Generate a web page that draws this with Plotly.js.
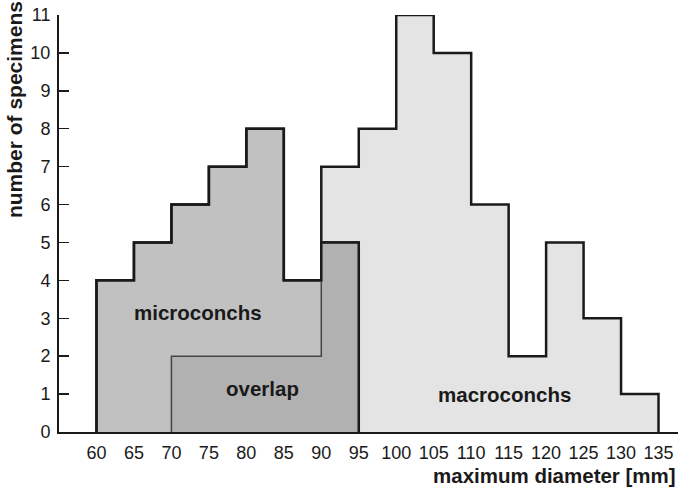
<!DOCTYPE html>
<html>
<head>
<meta charset="utf-8">
<script src="https://cdn.plot.ly/plotly-3.0.1.min.js"></script>
<style>html,body{margin:0;padding:0;background:#fff}#chart{width:680px;height:491px}</style>
</head>
<body>
<div id="chart"></div>
<script>
// bin left edges (mm), bin width 5 mm
var binEdges = [60, 65, 70, 75, 80, 85, 90, 95, 100, 105, 110, 115, 120, 125, 130, 135];
var microCounts = [4, 5, 6, 7, 8, 4, 5, 0, 0, 0, 0, 0, 0, 0, 0];
var macroCounts = [0, 0, 2, 2, 2, 2, 7, 8, 11, 10, 6, 2, 5, 3, 1];
var xTicks = [60, 65, 70, 75, 80, 85, 90, 95, 100, 105, 110, 115, 120, 125, 130, 135];
var yTicks = [0, 1, 2, 3, 4, 5, 6, 7, 8, 9, 10, 11];

var overlapCounts = microCounts.map(function (v, i) { return Math.min(v, macroCounts[i]); });

function outline(counts) {
  var first = -1, last = -1;
  for (var i = 0; i < counts.length; i++) { if (counts[i] > 0) { if (first < 0) first = i; last = i; } }
  var xs = [binEdges[first]], ys = [0];
  for (var j = first; j <= last; j++) {
    xs.push(binEdges[j], binEdges[j + 1]);
    ys.push(counts[j], counts[j]);
  }
  xs.push(binEdges[last + 1]); ys.push(0);
  return {x: xs, y: ys};
}

var mac = outline(macroCounts), mic = outline(microCounts), ov = outline(overlapCounts);

var traces = [
  {x: mac.x, y: mac.y, mode: 'lines', fill: 'toself', fillcolor: '#e4e4e4',
   line: {color: '#1a1a1a', width: 2.5}, hoverinfo: 'skip'},
  {x: mic.x, y: mic.y, mode: 'lines', fill: 'toself', fillcolor: '#c1c1c1',
   line: {color: '#1a1a1a', width: 2.5}, hoverinfo: 'skip'},
  {x: ov.x, y: ov.y, mode: 'lines', fill: 'toself', fillcolor: '#b1b1b1',
   line: {color: '#444', width: 1.5}, hoverinfo: 'skip'},
  {x: mic.x, y: mic.y, mode: 'lines',
   line: {color: '#1a1a1a', width: 2.5}, hoverinfo: 'skip'}
];

var layout = {
  width: 680, height: 491,
  margin: {l: 59, r: 2, t: 15, b: 59},
  paper_bgcolor: '#fff', plot_bgcolor: 'rgba(0,0,0,0)',
  showlegend: false,
  font: {family: 'Liberation Sans, Arial, sans-serif', color: '#1a1a1a'},
  xaxis: {
    range: [55, 137.6], showgrid: false, zeroline: false,
    showline: true, linecolor: '#1a1a1a', linewidth: 2,
    tickmode: 'array', tickvals: xTicks, ticktext: xTicks.map(String),
    ticks: '', ticklabelstandoff: 3, tickfont: {size: 18, color: '#1a1a1a'}
  },
  yaxis: {
    range: [0, 11], showgrid: false, zeroline: false,
    showline: true, linecolor: '#1a1a1a', linewidth: 2,
    tickmode: 'array', tickvals: yTicks, ticktext: yTicks.map(String),
    ticks: 'inside', ticklen: 10, tickwidth: 1.5, tickcolor: '#1a1a1a',
    ticklabelstandoff: 3,
    tickfont: {size: 18, color: '#1a1a1a'}
  },
  annotations: [
    {text: '<b>microconchs</b>', x: 73.6, y: 3.15, xref: 'x', yref: 'y', showarrow: false,
     font: {size: 20.5, color: '#1a1a1a'}},
    {text: '<b>overlap</b>', x: 82.1, y: 1.16, xref: 'x', yref: 'y', showarrow: false,
     font: {size: 20.5, color: '#1a1a1a'}},
    {text: '<b>macroconchs</b>', x: 114.5, y: 0.98, xref: 'x', yref: 'y', showarrow: false,
     font: {size: 20.5, color: '#1a1a1a'}},
    {text: '<b>maximum diameter [mm]</b>', xref: 'paper', yref: 'paper', x: 1.0, xanchor: 'right',
     y: -0.105, yanchor: 'middle', showarrow: false, font: {size: 20.5, color: '#1a1a1a'}},
    {text: '<b>number of specimens</b>', xref: 'paper', yref: 'paper', x: -0.072, xanchor: 'center',
     y: 1.038, yanchor: 'top', textangle: -90, showarrow: false, font: {size: 21, color: '#1a1a1a'}}
  ]
};

Plotly.newPlot('chart', traces, layout, {staticPlot: true, displayModeBar: false});
</script>
</body>
</html>
